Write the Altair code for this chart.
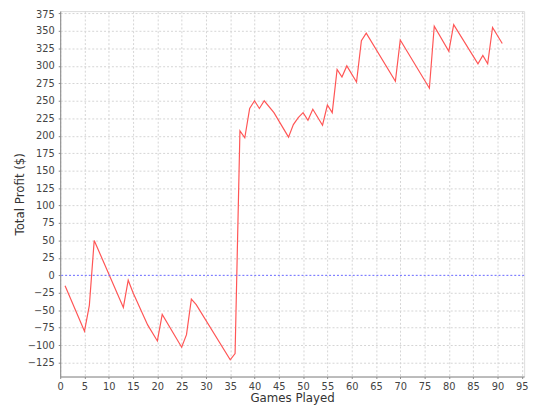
import altair as alt
import pandas as pd

games = [1, 5, 6, 7, 13, 14, 15, 18, 20, 21, 25, 26, 27, 28, 35, 36, 37, 38, 39,
         40, 41, 42, 44, 47, 48, 49, 50, 51, 52, 54, 55, 56, 57, 58, 59, 61, 62,
         63, 69, 70, 76, 77, 80, 81, 86, 87, 88, 89, 91]
profit = [-15, -80, -43, 50, -46, -7, -25, -71, -94, -56, -103, -85, -34, -42,
          -121, -112, 207, 197, 239, 250, 239, 250, 233, 198, 216, 226, 233, 222,
          238, 215, 244, 233, 295, 284, 300, 277, 336, 347, 278, 337, 268, 357,
          321, 359, 303, 315, 303, 355, 332]

x_ticks = list(range(0, 96, 5))
y_ticks = list(range(-125, 376, 25))

df = pd.DataFrame({"game": games, "profit": profit})
zero = pd.DataFrame({"y": [0]})

FONT = "DejaVu Sans"

x_axis = alt.Axis(
    values=x_ticks, title="Games Played", grid=True, gridColor="#d4d4d4",
    gridDash=[2, 2], gridWidth=1, domainColor="#888888", tickColor="#888888",
    tickSize=2, labelFont=FONT, labelFontSize=10, labelColor="#444444",
    labelPadding=3, titleFont=FONT, titleFontSize=12, titleFontWeight="normal",
    titleColor="#333333", titlePadding=1, labelFlush=False, labelOverlap=False,
)
y_axis = alt.Axis(
    values=y_ticks, title="Total Profit ($)", grid=True, gridColor="#d4d4d4",
    gridDash=[2, 2], gridWidth=1, domainColor="#888888", tickColor="#888888",
    tickSize=2, labelFont=FONT, labelFontSize=10, labelColor="#444444",
    labelPadding=4, titleFont=FONT, titleFontSize=12, titleFontWeight="normal",
    titleColor="#333333", titlePadding=1, labelFlush=False, labelOverlap=False,
    labelOffset={"condition": {"test": "datum.value == 375", "value": 1.5}, "value": 0},
    gridOpacity={"condition": {"test": "datum.value == 0", "value": 0}, "value": 1},
)

xs = alt.Scale(domain=[0, 95.5], nice=False, zero=False)
ys = alt.Scale(domain=[-144.9, 378.5], nice=False, zero=False)

line = alt.Chart(df).mark_line(color="#ff5555", strokeWidth=1.2).encode(
    x=alt.X("game:Q", scale=xs, axis=x_axis),
    y=alt.Y("profit:Q", scale=ys, axis=y_axis),
)

zero_rule = alt.Chart(zero).mark_rule(
    stroke="#6666ff", color="#6666ff", strokeDash=[2, 2], strokeWidth=1, strokeCap="butt", opacity=1
).encode(
    y=alt.Y("y:Q", scale=ys, axis=y_axis),
)

chart = alt.layer(line, zero_rule).properties(
    width=471, height=371,
    autosize=alt.AutoSizeParams(type="none"),
    padding={"left": 53, "top": 0, "right": 8, "bottom": 40},
).configure_view(stroke="#aaaaaa", strokeWidth=1, fill="white").configure(background="white")

chart.save("out.html", embed_options={"renderer": "svg", "actions": False})
